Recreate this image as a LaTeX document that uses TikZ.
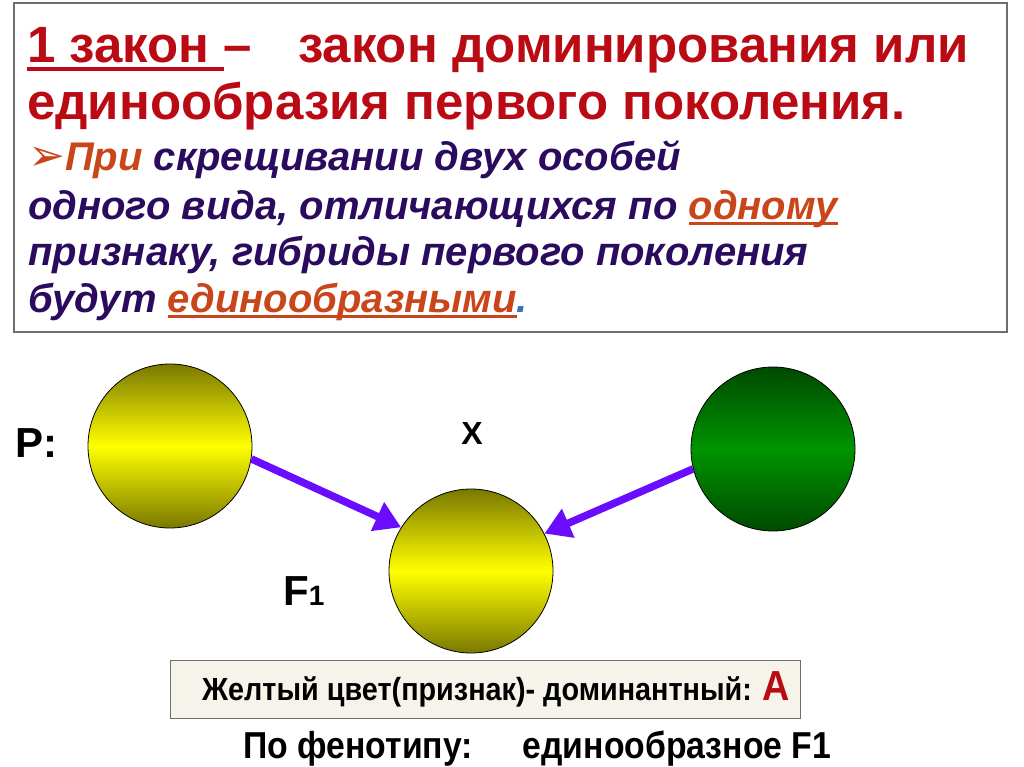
\documentclass[tikz,border=0pt]{standalone}
\usepackage{fontspec}
\setmainfont{Liberation Sans}
\newfontfamily\symfont{DejaVu Sans}
\newfontfamily\narrowsans[FakeStretch=0.9]{Liberation Sans}
\usetikzlibrary{positioning,arrows.meta}
\definecolor{lawred}{HTML}{BA0A14}
\definecolor{ruleindigo}{HTML}{2B0B5E}
\definecolor{accentorange}{HTML}{C8461A}
\definecolor{dotblue}{HTML}{3A6FC0}
\definecolor{arrowviolet}{HTML}{6A0DFF}
\definecolor{ballolive}{HTML}{7A7800}
\definecolor{ballyellow}{HTML}{FFFF00}
\definecolor{balldark}{HTML}{004A00}
\definecolor{ballgreen}{HTML}{009400}
\definecolor{framegray}{HTML}{6E6E6E}
\definecolor{notefill}{HTML}{F5F3EA}
\tikzset{
  titleline/.style={anchor=base west, inner sep=0pt, text=lawred,
    font=\fontsize{51}{56}\selectfont\bfseries},
  bodyline/.style={anchor=base west, inner sep=0pt, text=ruleindigo,
    font=\fontsize{40}{46}\selectfont\bfseries\itshape},
  ball/.style={circle, draw=black, line width=0.8pt, minimum size=164pt, inner sep=0pt},
  yellowball/.style={ball, top color=ballolive, bottom color=ballolive, middle color=ballyellow},
  greenball/.style={ball, top color=balldark, bottom color=balldark, middle color=ballgreen},
  crossarrow/.style={-{Triangle[width=30pt,length=26pt]}, line width=7.5pt, draw=arrowviolet},
  biglabel/.style={inner sep=0pt, font=\fontsize{42}{46}\selectfont\bfseries},
}
\newcommand{\ulbar}[1]{\sbox0{#1}\rlap{\rule[-0.15em]{\wd0}{0.08em}}\usebox0}

\begin{document}
\begin{tikzpicture}[x=1pt, y=-1pt]
  \useasboundingbox (0,0) rectangle (1024,767);
  % law statement
  \draw[framegray, line width=1.5pt] (14,3) rectangle (1007,332);
  \node[titleline] (law1) at (27,63) {\ulbar{1 закон }–\hspace{46pt}закон доминирования или};
  \node[titleline] (law2) at (27,120) {единообразия первого поколения.};
  \node[bodyline] (rule1) at (28,171) {{\symfont\fontsize{44}{46}\selectfont\color{accentorange}➢}{\color{accentorange}При} скрещивании двух особей};
  \node[bodyline] (rule2) at (28,219) {одного вида, отличающихся по {\color{accentorange}\ulbar{одному}}};
  \node[bodyline] (rule3) at (28,265) {признаку, гибриды первого поколения};
  \node[bodyline] (rule4) at (28,312) {будут {\color{accentorange}\ulbar{единообразными}}{\color{dotblue}.}};

  % crossing
  \node[yellowball] (p1) at (170,446) {};
  \node[greenball] (p2) at (773,449) {};
  \node[yellowball] (f1) at (471,571) {};
  \node[biglabel, anchor=base west] (plabel) at (15,457) {P:};
  \node[inner sep=0pt, font=\fontsize{32}{34}\selectfont\bfseries] (cross) at (472,433) {X};
  \node[biglabel, anchor=base west] (flabel) at (283,605) {F{\fontsize{28}{30}\selectfont 1}};
  \draw[crossarrow] (p1.-9) -- (f1.148);
  \draw[crossarrow] (p2.194) -- (f1.27);

  % result
  \node[draw=framegray, line width=1pt, fill=notefill, minimum width=630pt, minimum height=58pt,
    font=\fontsize{32}{34}\selectfont\bfseries\narrowsans] (note) at (485,689)
    {\hspace*{22pt}Желтый цвет(признак)- доминантный: {\color{lawred}\fontsize{42}{44}\selectfont A}};
  \node[anchor=base west, inner sep=0pt, font=\fontsize{37.5}{39}\selectfont\bfseries\narrowsans] (pheno)
    at (243,758) {По фенотипу:\hspace{50pt}единообразное F1};
\end{tikzpicture}
\end{document}
